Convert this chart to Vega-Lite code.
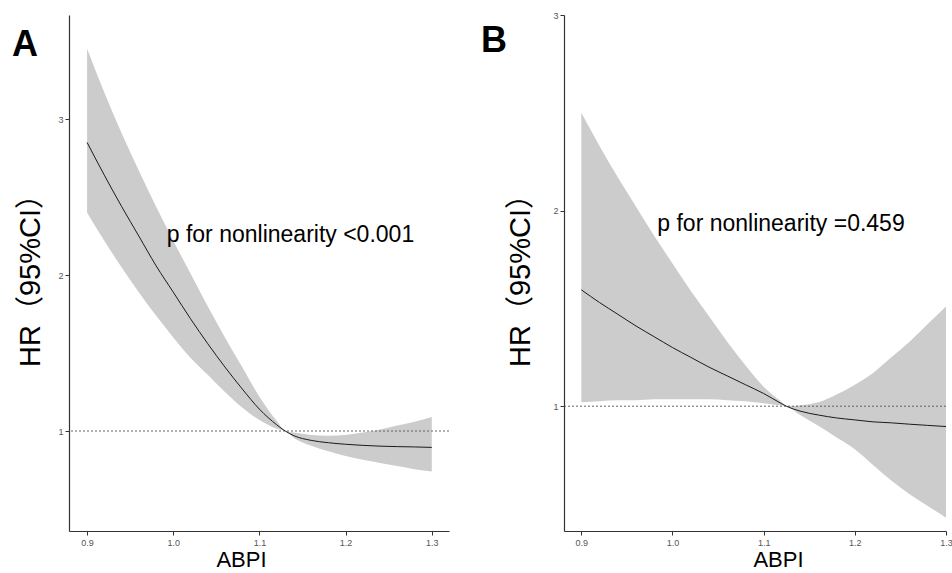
{
  "$schema": "https://vega.github.io/schema/vega-lite/v6.json",
  "background": "white",
  "padding": {"left": 12, "top": 11, "right": 0, "bottom": 0},
  "bounds": "flush",
  "spacing": 115,
  "config": {
    "view": {"stroke": null},
    "axis": {
      "grid": false,
      "labelFontSize": 9,
      "labelColor": "#555555",
      "labelFont": "Liberation Sans",
      "tickColor": "#333333",
      "tickSize": 4,
      "domainColor": "#333333",
      "domainWidth": 1.2,
      "labelFlush": false,
      "labelBound": false,
      "labelOverlap": false,
      "titleFont": "Liberation Sans, Noto Sans CJK SC",
      "titleFontWeight": "normal",
      "titleColor": "#000000"
    }
  },
  "datasets": {
    "curves": [
      {"panel": "A", "abpi": 0.90, "hr": 2.85, "lower": 2.40, "upper": 3.45},
      {"panel": "A", "abpi": 0.92, "hr": 2.64, "lower": 2.22, "upper": 3.17},
      {"panel": "A", "abpi": 0.94, "hr": 2.44, "lower": 2.05, "upper": 2.91},
      {"panel": "A", "abpi": 0.96, "hr": 2.25, "lower": 1.89, "upper": 2.67},
      {"panel": "A", "abpi": 0.98, "hr": 2.06, "lower": 1.74, "upper": 2.44},
      {"panel": "A", "abpi": 1.00, "hr": 1.89, "lower": 1.60, "upper": 2.22},
      {"panel": "A", "abpi": 1.02, "hr": 1.72, "lower": 1.47, "upper": 2.01},
      {"panel": "A", "abpi": 1.04, "hr": 1.56, "lower": 1.36, "upper": 1.80},
      {"panel": "A", "abpi": 1.06, "hr": 1.41, "lower": 1.25, "upper": 1.60},
      {"panel": "A", "abpi": 1.08, "hr": 1.27, "lower": 1.15, "upper": 1.41},
      {"panel": "A", "abpi": 1.10, "hr": 1.14, "lower": 1.07, "upper": 1.22},
      {"panel": "A", "abpi": 1.12, "hr": 1.04, "lower": 1.015, "upper": 1.065},
      {"panel": "A", "abpi": 1.13, "hr": 1.00, "lower": 1.00, "upper": 1.00},
      {"panel": "A", "abpi": 1.14, "hr": 0.97, "lower": 0.955, "upper": 0.99},
      {"panel": "A", "abpi": 1.16, "hr": 0.94, "lower": 0.905, "upper": 0.975},
      {"panel": "A", "abpi": 1.18, "hr": 0.925, "lower": 0.87, "upper": 0.97},
      {"panel": "A", "abpi": 1.20, "hr": 0.915, "lower": 0.84, "upper": 0.975},
      {"panel": "A", "abpi": 1.22, "hr": 0.908, "lower": 0.815, "upper": 0.99},
      {"panel": "A", "abpi": 1.24, "hr": 0.903, "lower": 0.795, "upper": 1.01},
      {"panel": "A", "abpi": 1.26, "hr": 0.90, "lower": 0.775, "upper": 1.035},
      {"panel": "A", "abpi": 1.28, "hr": 0.898, "lower": 0.755, "upper": 1.06},
      {"panel": "A", "abpi": 1.30, "hr": 0.895, "lower": 0.74, "upper": 1.09},
      {"panel": "B", "abpi": 0.90, "hr": 1.595, "lower": 1.02, "upper": 2.50},
      {"panel": "B", "abpi": 0.92, "hr": 1.53, "lower": 1.025, "upper": 2.33},
      {"panel": "B", "abpi": 0.94, "hr": 1.47, "lower": 1.03, "upper": 2.17},
      {"panel": "B", "abpi": 0.96, "hr": 1.41, "lower": 1.03, "upper": 2.02},
      {"panel": "B", "abpi": 0.98, "hr": 1.355, "lower": 1.035, "upper": 1.87},
      {"panel": "B", "abpi": 1.00, "hr": 1.30, "lower": 1.035, "upper": 1.73},
      {"panel": "B", "abpi": 1.02, "hr": 1.25, "lower": 1.035, "upper": 1.59},
      {"panel": "B", "abpi": 1.04, "hr": 1.20, "lower": 1.035, "upper": 1.46},
      {"panel": "B", "abpi": 1.06, "hr": 1.155, "lower": 1.03, "upper": 1.33},
      {"panel": "B", "abpi": 1.08, "hr": 1.11, "lower": 1.025, "upper": 1.21},
      {"panel": "B", "abpi": 1.10, "hr": 1.065, "lower": 1.015, "upper": 1.10},
      {"panel": "B", "abpi": 1.12, "hr": 1.012, "lower": 1.003, "upper": 1.02},
      {"panel": "B", "abpi": 1.125, "hr": 1.00, "lower": 1.00, "upper": 1.00},
      {"panel": "B", "abpi": 1.14, "hr": 0.975, "lower": 0.955, "upper": 1.005},
      {"panel": "B", "abpi": 1.16, "hr": 0.955, "lower": 0.90, "upper": 1.02},
      {"panel": "B", "abpi": 1.18, "hr": 0.94, "lower": 0.84, "upper": 1.06},
      {"panel": "B", "abpi": 1.20, "hr": 0.93, "lower": 0.78, "upper": 1.11},
      {"panel": "B", "abpi": 1.22, "hr": 0.92, "lower": 0.70, "upper": 1.17},
      {"panel": "B", "abpi": 1.24, "hr": 0.915, "lower": 0.62, "upper": 1.25},
      {"panel": "B", "abpi": 1.26, "hr": 0.908, "lower": 0.55, "upper": 1.33},
      {"panel": "B", "abpi": 1.28, "hr": 0.902, "lower": 0.49, "upper": 1.42},
      {"panel": "B", "abpi": 1.30, "hr": 0.896, "lower": 0.43, "upper": 1.51}
    ],
    "notes": [
      {"panel": "A", "x": 1.136, "y": 2.256, "label": "p for nonlinearity <0.001"},
      {"panel": "B", "x": 1.119, "y": 1.93, "label": "p for nonlinearity =0.459"}
    ],
    "reference": [{"ref": 1}]
  },
  "hconcat": [
    {
      "width": 380,
      "height": 516,
      "title": {"text": "A", "anchor": "start", "frame": "group", "fontSize": 36, "fontWeight": "bold", "font": "Liberation Sans", "color": "#000000", "baseline": "top", "dx": -57, "dy": 53},
      "layer": [
        {
          "data": {"name": "curves"},
          "transform": [{"filter": "datum.panel === 'A'"}],
          "mark": {"type": "area", "color": "#cccccc", "opacity": 1, "interpolate": "monotone"},
          "encoding": {
            "x": {"field": "abpi", "type": "quantitative", "scale": {"domain": [0.879, 1.32], "nice": false, "zero": false},
              "axis": {"title": "ABPI", "titleFontSize": 22, "values": [0.9, 1.0, 1.1, 1.2, 1.3], "format": ".1f", "labelPadding": 3, "titlePadding": 2, "titleX": 172}},
            "y": {"field": "lower", "type": "quantitative", "scale": {"domain": [0.359, 3.667], "nice": false, "zero": false},
              "axis": {"title": "HR（95%CI）", "titleFontSize": 29, "values": [1, 2, 3], "format": "d", "labelPadding": 2, "titlePadding": 12}},
            "y2": {"field": "upper"}
          }
        },
        {
          "data": {"name": "reference"},
          "mark": {"type": "rule", "color": "#555555", "strokeDash": [2, 2], "strokeWidth": 0.9},
          "encoding": {"y": {"field": "ref", "type": "quantitative"}}
        },
        {
          "data": {"name": "curves"},
          "transform": [{"filter": "datum.panel === 'A'"}],
          "mark": {"type": "line", "color": "#1a1a1a", "strokeWidth": 1, "interpolate": "monotone"},
          "encoding": {
            "x": {"field": "abpi", "type": "quantitative"},
            "y": {"field": "hr", "type": "quantitative"}
          }
        },
        {
          "data": {"name": "notes"},
          "transform": [{"filter": "datum.panel === 'A'"}],
          "mark": {"type": "text", "fontSize": 23, "font": "Liberation Sans", "color": "#000000", "align": "center", "baseline": "middle"},
          "encoding": {
            "x": {"field": "x", "type": "quantitative"},
            "y": {"field": "y", "type": "quantitative"},
            "text": {"field": "label"}
          }
        }
      ]
    },
    {
      "width": 382,
      "height": 516,
      "title": {"text": "B", "anchor": "start", "frame": "group", "fontSize": 36, "fontWeight": "bold", "font": "Liberation Sans", "color": "#000000", "baseline": "top", "dx": -83, "dy": 53},
      "layer": [
        {
          "data": {"name": "curves"},
          "transform": [{"filter": "datum.panel === 'B'"}],
          "mark": {"type": "area", "color": "#cccccc", "opacity": 1, "interpolate": "monotone"},
          "encoding": {
            "x": {"field": "abpi", "type": "quantitative", "scale": {"domain": [0.881, 1.30], "nice": false, "zero": false},
              "axis": {"title": "ABPI", "titleFontSize": 22, "values": [0.9, 1.0, 1.1, 1.2, 1.3], "format": ".1f", "labelPadding": 3, "titlePadding": 2, "titleX": 214}},
            "y": {"field": "lower", "type": "quantitative", "scale": {"domain": [0.362, 3.0], "nice": false, "zero": false},
              "axis": {"title": "HR（95%CI）", "titleFontSize": 29, "values": [1, 2, 3], "format": "d", "labelPadding": 2, "titlePadding": 17}},
            "y2": {"field": "upper"}
          }
        },
        {
          "data": {"name": "reference"},
          "mark": {"type": "rule", "color": "#555555", "strokeDash": [2, 2], "strokeWidth": 0.9},
          "encoding": {"y": {"field": "ref", "type": "quantitative"}}
        },
        {
          "data": {"name": "curves"},
          "transform": [{"filter": "datum.panel === 'B'"}],
          "mark": {"type": "line", "color": "#1a1a1a", "strokeWidth": 1, "interpolate": "monotone"},
          "encoding": {
            "x": {"field": "abpi", "type": "quantitative"},
            "y": {"field": "hr", "type": "quantitative"}
          }
        },
        {
          "data": {"name": "notes"},
          "transform": [{"filter": "datum.panel === 'B'"}],
          "mark": {"type": "text", "fontSize": 23, "font": "Liberation Sans", "color": "#000000", "align": "center", "baseline": "middle"},
          "encoding": {
            "x": {"field": "x", "type": "quantitative"},
            "y": {"field": "y", "type": "quantitative"},
            "text": {"field": "label"}
          }
        }
      ]
    }
  ]
}
